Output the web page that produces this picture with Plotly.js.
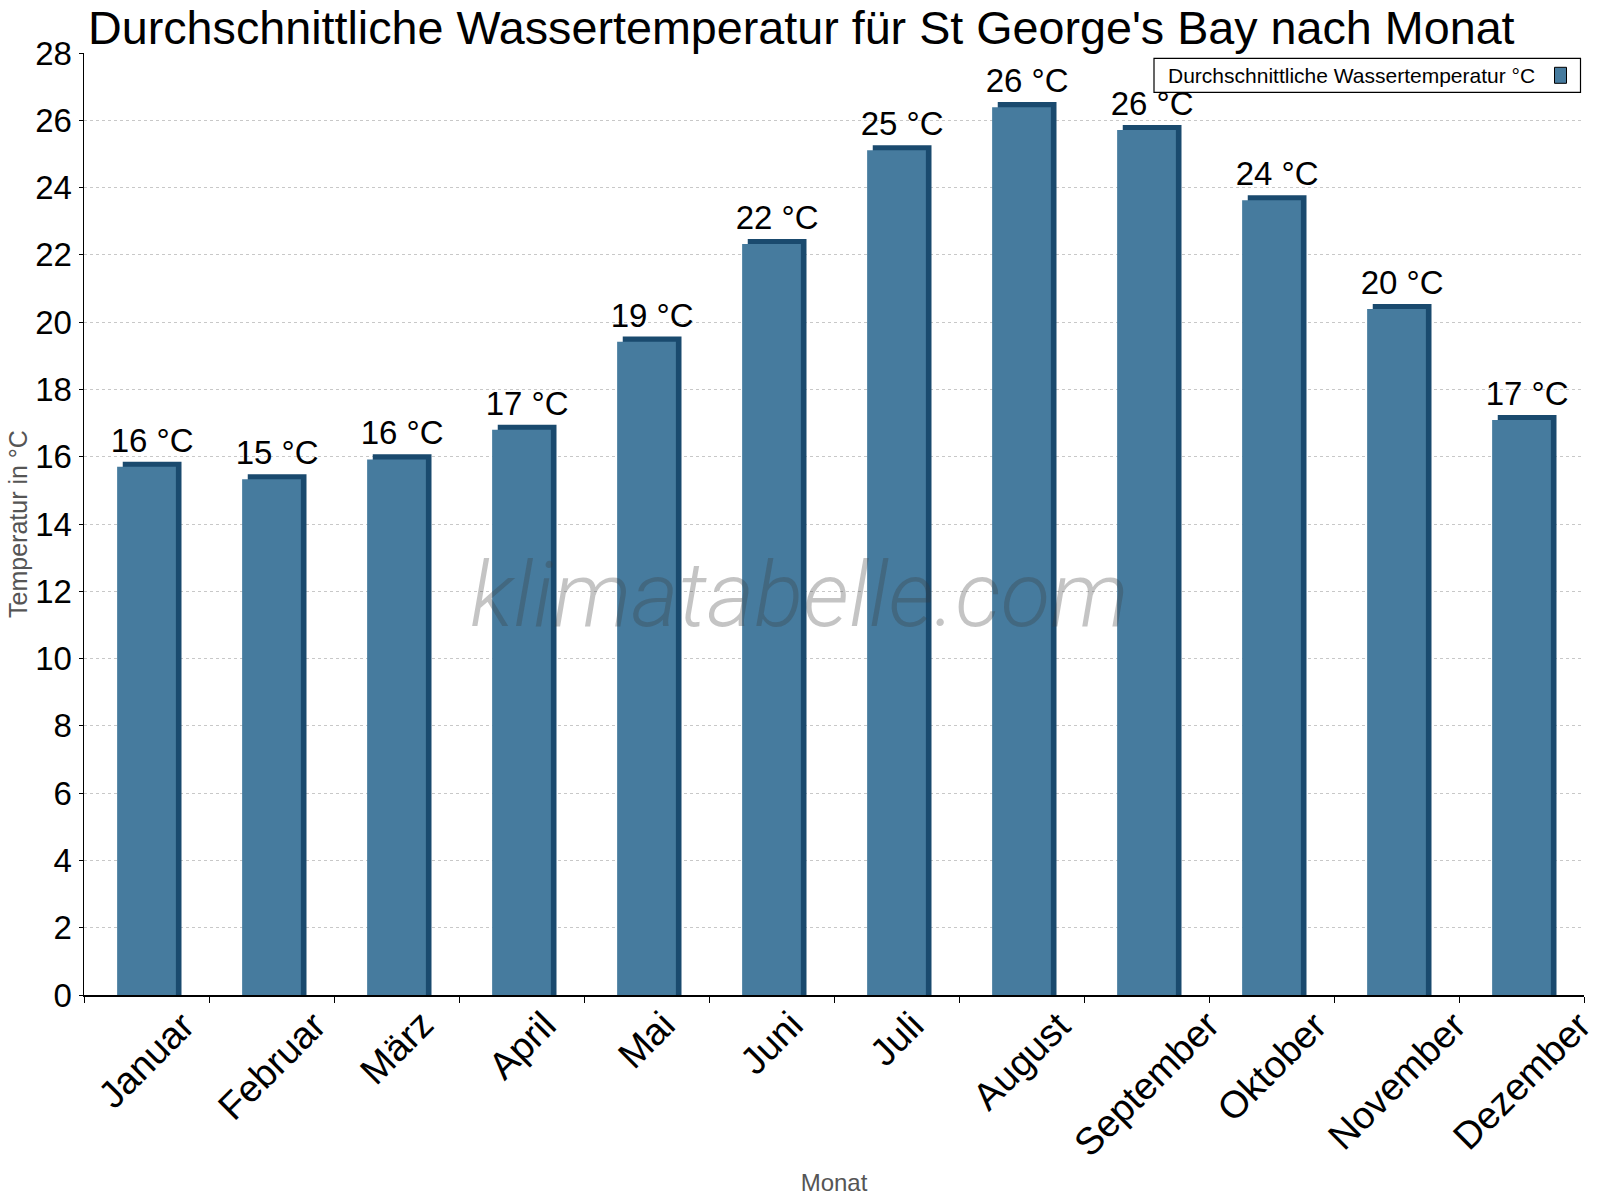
<!DOCTYPE html>
<html>
<head>
<meta charset="utf-8">
<script src="https://cdn.plot.ly/plotly-3.0.1.min.js"></script>
<style>html,body{margin:0;padding:0;background:#fff;}</style>
</head>
<body>
<div id="chart" style="width:1600px;height:1200px;"></div>
<script>
const months = ["Januar","Februar","März","April","Mai","Juni","Juli","August","September","Oktober","November","Dezember"];
const waterTemp = [15.7, 15.33, 15.92, 16.8, 19.42, 22.32, 25.11, 26.39, 25.71, 23.62, 20.39, 17.09];
const labelTexts = ["16 °C","15 °C","16 °C","17 °C","19 °C","22 °C","25 °C","26 °C","26 °C","24 °C","20 °C","17 °C"];
const seriesName = "Durchschnittliche Wassertemperatur °C";

const FONT = '"Liberation Sans", Arial, sans-serif';
const front = '#467b9e';
const dark = '#1a4a6e';
const depth = 0.15;

// plot area in pixels (for converting decorative positions to paper units)
const PL = 84, PW = 1500, PT = 53, PH = 942;
const px = v => (v - PL) / PW;
const py = v => (PT + PH - v) / PH;

const backTrace = {
  type: 'bar', x: months, y: waterTemp.map(v => v + depth),
  width: 0.47, offset: -0.235 + 0.045,
  marker: {color: dark, line: {width: 0}},
  text: labelTexts, textposition: 'outside', cliponaxis: false, constraintext: 'none',
  textfont: {family: FONT, size: 33, color: '#000'},
  showlegend: false, hoverinfo: 'skip'
};
const frontTrace = {
  type: 'bar', x: months, y: waterTemp, name: seriesName,
  width: 0.47, offset: -0.235,
  marker: {color: front, line: {width: 0}},
  showlegend: false
};

const monthLabels = months.map(m => ({
  text: m, x: m, xref: 'x', y: py(1001), yref: 'paper',
  xanchor: 'center', yanchor: 'top', textangle: -45, showarrow: false,
  font: {family: FONT, size: 38, color: '#000'}
}));

const layout = {
  width: 1600, height: 1200,
  margin: {l: PL, r: 1600 - PL - PW, t: PT, b: 1200 - PT - PH},
  paper_bgcolor: '#fff', plot_bgcolor: '#fff',
  barmode: 'overlay',
  showlegend: false,
  font: {family: FONT, color: '#000'},
  title: {
    text: 'Durchschnittliche Wassertemperatur für St George\'s Bay nach Monat',
    font: {family: FONT, size: 46.7, color: '#000'},
    xref: 'container', x: 88/1600, xanchor: 'left',
    yref: 'container', y: 1 - 28/1200, yanchor: 'middle'
  },
  xaxis: {
    type: 'category', range: [-0.5, months.length - 0.5], autorange: false,
    showline: true, linecolor: '#000', linewidth: 1.5,
    ticks: 'outside', ticklen: 6, tickcolor: '#000', tickson: 'boundaries',
    showticklabels: false,
    showgrid: false, zeroline: false,
    automargin: false,
    title: {text: 'Monat', font: {family: FONT, size: 24, color: '#555'}, standoff: 178}
  },
  yaxis: {
    range: [0, 28], autorange: false, dtick: 2, tick0: 0,
    showline: true, linecolor: '#000', linewidth: 1.5,
    ticks: 'outside', ticklen: 4, tickcolor: '#000',
    tickfont: {family: FONT, size: 33, color: '#000'},
    showgrid: true, gridcolor: '#c8c8c8', griddash: 'dot', gridwidth: 1,
    zeroline: false, automargin: false,
    title: {text: 'Temperatur in °C', font: {family: FONT, size: 25, color: '#555'}, standoff: 0}
  },
  shapes: [
    {type: 'rect', xref: 'paper', yref: 'paper', layer: 'above',
     x0: px(1154), x1: px(1580.5), y0: py(92.3), y1: py(58.3),
     fillcolor: '#fff', line: {color: '#000', width: 1.2}},
    {type: 'rect', xref: 'paper', yref: 'paper', layer: 'above',
     x0: px(1554.5), x1: px(1566.5), y0: py(83.3), y1: py(67.3),
     fillcolor: front, line: {color: '#000', width: 1}}
  ],
  annotations: [
    {
      text: 'klimatabelle.com', xref: 'paper', yref: 'paper',
      x: 0.477, y: 0.425, xanchor: 'center', yanchor: 'middle', showarrow: false,
      font: {family: 'Roboto, sans-serif', size: 91, color: 'rgba(60,60,60,0.3)', style: 'italic', weight: 300}
    },
    {
      text: seriesName, xref: 'paper', yref: 'paper',
      x: px(1166), y: py(75.3), xanchor: 'left', yanchor: 'middle', showarrow: false,
      font: {family: FONT, size: 21, color: '#000'}
    }
  ].concat(monthLabels),
  bargap: 0.5
};

Plotly.newPlot('chart', [backTrace, frontTrace], layout, {displayModeBar: false, staticPlot: true});
</script>
</body>
</html>
